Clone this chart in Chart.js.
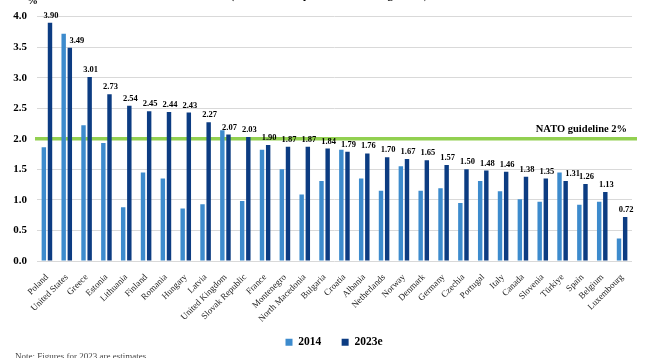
<!DOCTYPE html>
<html>
<head>
<meta charset="utf-8">
<script src="https://cdn.jsdelivr.net/npm/chart.js@4"></script>
<style>
  html, body { margin: 0; padding: 0; background: #fff; }
  #wrap { width: 668px; height: 358px; }
</style>
</head>
<body>
<div id="wrap"><canvas id="chart" width="668" height="358"></canvas></div>
<script>
// Countries, sorted by 2023e share
const countries = [
  "Poland", "United States", "Greece", "Estonia", "Lithuania", "Finland",
  "Romania", "Hungary", "Latvia", "United Kingdom", "Slovak Republic", "France",
  "Montenegro", "North Macedonia", "Bulgaria", "Croatia", "Albania", "Netherlands",
  "Norway", "Denmark", "Germany", "Czechia", "Portugal", "Italy",
  "Canada", "Slovenia", "Türkiye", "Spain", "Belgium", "Luxembourg"
];

// Defence expenditure as % of GDP
const values2014 = [
  1.86, 3.72, 2.22, 1.93, 0.88, 1.45, 1.35, 0.86, 0.93, 2.14, 0.98, 1.82,
  1.50, 1.09, 1.31, 1.82, 1.35, 1.15, 1.55, 1.15, 1.19, 0.95, 1.31, 1.14,
  1.01, 0.97, 1.45, 0.92, 0.97, 0.37
];
const values2023 = [
  3.90, 3.49, 3.01, 2.73, 2.54, 2.45, 2.44, 2.43, 2.27, 2.07, 2.03, 1.90,
  1.87, 1.87, 1.84, 1.79, 1.76, 1.70, 1.67, 1.65, 1.57, 1.50, 1.48, 1.46,
  1.38, 1.35, 1.31, 1.26, 1.13, 0.72
];

const seriesNames = ["2014", "2023e"];
const guideline = 2.0;
const guidelineLabel = "NATO guideline 2%";
const subtitle = "(based on 2015 prices and exchange rates)";
const note = "Note: Figures for 2023 are estimates";

const SERIF = "'Liberation Serif', 'DejaVu Serif', serif";

// green guideline behind the bars
const guidelinePlugin = {
  id: "guideline",
  beforeDatasetsDraw(chart) {
    const { ctx, chartArea, scales } = chart;
    const y = scales.y.getPixelForValue(guideline);
    ctx.save();
    ctx.strokeStyle = "#92d050";
    ctx.lineWidth = 3.5;
    ctx.beginPath();
    ctx.moveTo(chartArea.left - 2, y);
    ctx.lineTo(chartArea.right + 5, y);
    ctx.stroke();
    ctx.fillStyle = "#000";
    ctx.font = "bold 10.5px " + SERIF;
    ctx.textAlign = "right";
    ctx.textBaseline = "alphabetic";
    ctx.fillText(guidelineLabel, chartArea.right - 5, y - 7);
    ctx.restore();
  }
};

// value labels over the 2023e bars, plus the cut-off texts
const labelsPlugin = {
  id: "valueLabels",
  afterDatasetsDraw(chart) {
    const { ctx } = chart;
    const meta = chart.getDatasetMeta(1);
    ctx.save();
    ctx.fillStyle = "#000";
    ctx.font = "bold 8.5px " + SERIF;
    ctx.textAlign = "center";
    ctx.textBaseline = "alphabetic";
    meta.data.forEach((bar, i) => {
      // nudge right when the 2014 bar sticks up past the label
      const shift = values2014[i] - values2023[i] > 0.1 ? 6 : 0;
      ctx.fillText(values2023[i].toFixed(2), bar.x + 1 + shift, bar.y - 5);
    });

    ctx.font = "bold 11px " + SERIF;
    ctx.fillText(subtitle, 329, -1);
    ctx.textAlign = "left";
    ctx.fillText("%", 27, 4);

    ctx.font = "9px " + SERIF;
    ctx.fillStyle = "#444";
    ctx.fillText(note, 15, 359);
    ctx.restore();
  }
};

new Chart(document.getElementById("chart"), {
  type: "bar",
  data: {
    labels: countries,
    datasets: [
      {
        label: seriesNames[0],
        data: values2014,
        backgroundColor: "#3d8bcd",
        categoryPercentage: 0.62,
        barPercentage: 0.72
      },
      {
        label: seriesNames[1],
        data: values2023,
        backgroundColor: "#0c3c82",
        categoryPercentage: 0.62,
        barPercentage: 0.72
      }
    ]
  },
  plugins: [guidelinePlugin, labelsPlugin],
  options: {
    responsive: false,
    animation: false,
    devicePixelRatio: 1,
    layout: { padding: { top: 15, right: 0, left: 0, bottom: 0 } },
    plugins: {
      tooltip: { enabled: false },
      legend: {
        position: "bottom",
        labels: {
          boxWidth: 7,
          boxHeight: 7,
          padding: 6,
          color: "#000",
          font: { family: SERIF, size: 11.5, weight: "bold" },
          // widen the first entry so the gap matches the reference
          generateLabels: (chart) => {
            const items = Chart.defaults.plugins.legend.labels.generateLabels(chart);
            items[0].text = items[0].text + "     ";
            return items;
          }
        }
      }
    },
    scales: {
      y: {
        min: 0,
        max: 4,
        ticks: {
          stepSize: 0.5,
          padding: 10,
          color: "#000",
          font: { family: SERIF, size: 11, weight: "bold" },
          callback: (v) => Number(v).toFixed(1)
        },
        grid: { color: "#d9d9d9", drawTicks: false },
        border: { display: false },
        afterFit: (scale) => { scale.width = 37; }
      },
      // empty right-hand axis, only keeps the right margin
      yRight: {
        position: "right",
        min: 0,
        max: 4,
        ticks: { display: false },
        grid: { display: false },
        border: { display: false },
        afterFit: (scale) => { scale.width = 36; }
      },
      x: {
        ticks: {
          minRotation: 45,
          maxRotation: 45,
          autoSkip: false,
          padding: 3,
          color: "#222",
          font: { family: SERIF, size: 9 }
        },
        grid: { display: false },
        border: { display: false },
        afterFit: (scale) => {
          const lh = scale.chart.legend ? scale.chart.legend.height : 0;
          scale.height = 358 - 261 - lh;
        }
      }
    }
  }
});
</script>
</body>
</html>
